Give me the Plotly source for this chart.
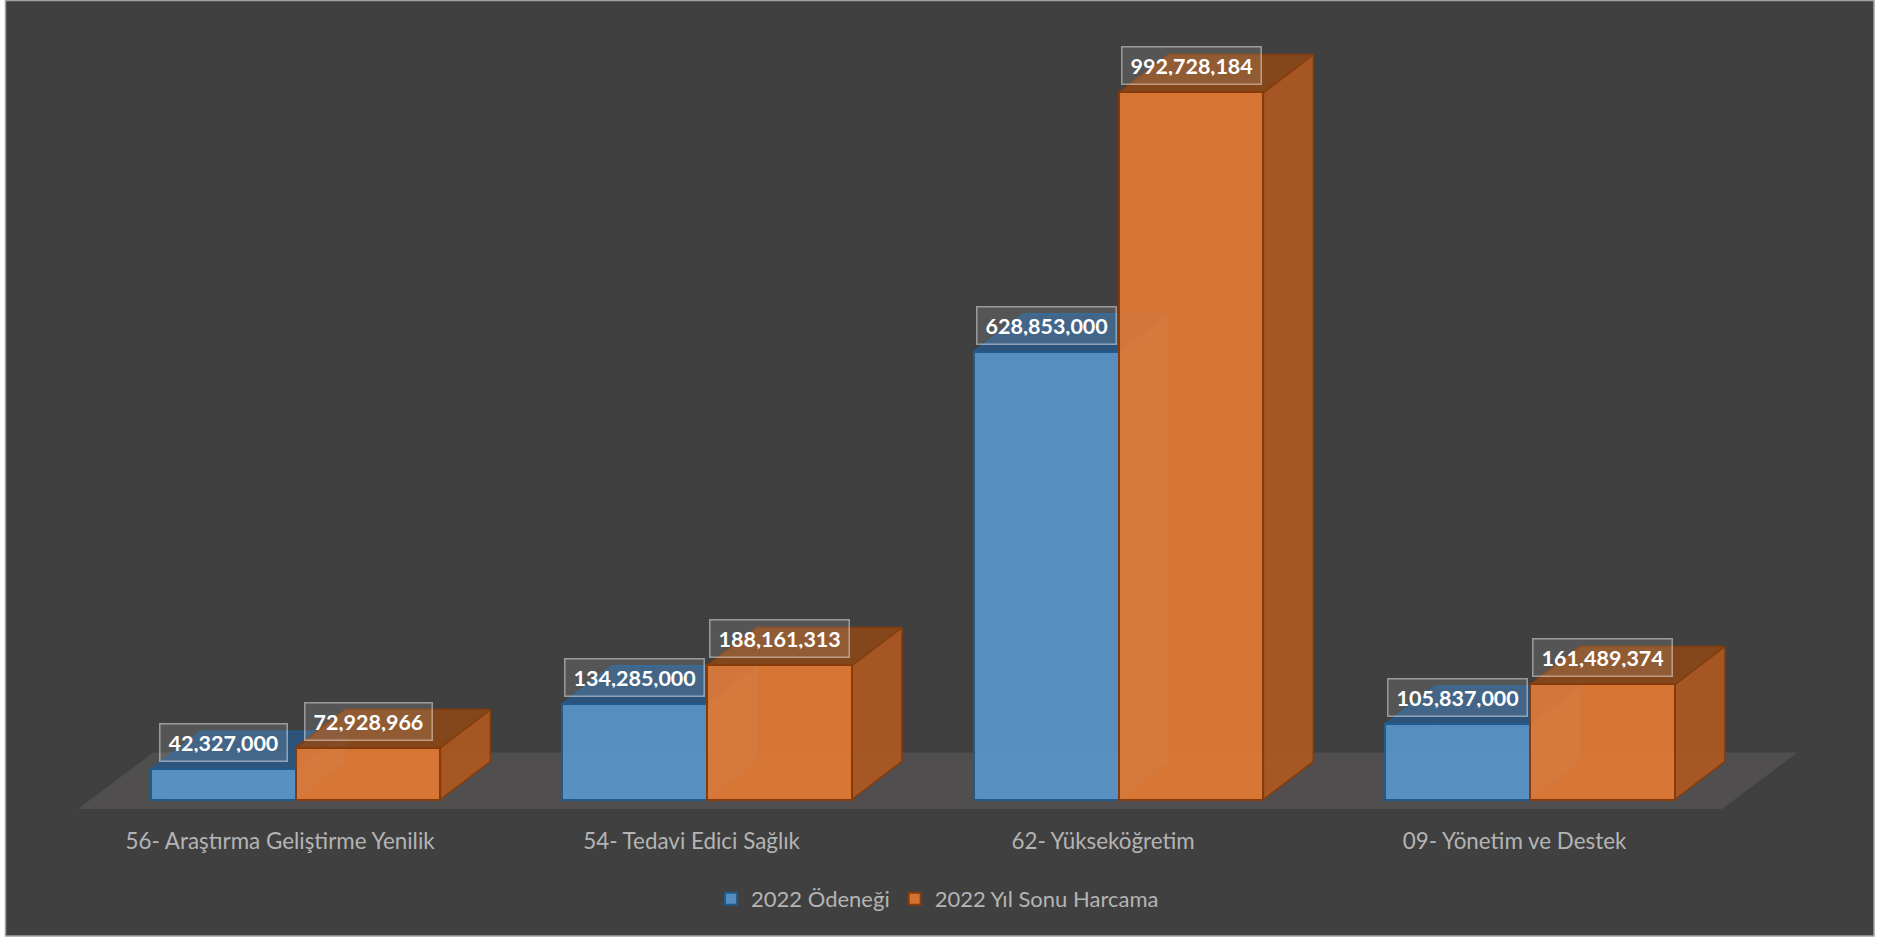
import plotly.graph_objects as go

categories = ["56- Araştırma Geliştirme Yenilik", "54- Tedavi Edici Sağlık", "62- Yükseköğretim", "09- Yönetim ve Destek"]
series_names = ["2022 Ödeneği", "2022 Yıl Sonu Harcama"]
odenek = [42327000, 134285000, 628853000, 105837000]
harcama = [72928966, 188161313, 992728184, 161489374]
positions = [0, 1, 2, 3]

PX_X = 411.5            # pixels per category
PX_Y = 0.7122e-6        # pixels per unit of value
BASE = 799.5            # pixel row of the value 0
W = 144.8 / PX_X        # bar width
DX = 50 / PX_X          # 3D depth, x
DY = 38 / PX_Y          # 3D depth, y
FDX = 75.5 / PX_X
FDY = 56.5 / PX_Y
BG = "#404040"
FONT = "Lato"
TXT = "#B4B4B4"

def poly_trace(xs, ys, fill, line, z, lw=1.5):
    return go.Scatter(x=xs, y=ys, mode="lines", fill="toself", fillcolor=fill,
                      line=dict(color=line, width=lw), hoverinfo="skip",
                      showlegend=False, zorder=z, cliponaxis=False)

def faces(lefts, values):
    top_x, top_y, side_x, side_y, back_x, back_y, floor_x, floor_y = [], [], [], [], [], [], [], []
    for l, v in zip(lefts, values):
        r = l + W
        top_x += [l, r, r + DX, l + DX, l, None]
        top_y += [v, v, v + DY, v + DY, v, None]
        side_x += [r, r + DX, r + DX, r, r, None]
        side_y += [0, DY, v + DY, v, 0, None]
        back_x += [l + DX, r + DX, r + DX, l + DX, l + DX, None]
        back_y += [DY, DY, v + DY, v + DY, DY, None]
        floor_x += [l, l + DX, l + DX, l, None, l, r, r + DX, l + DX, l, None]
        floor_y += [0, DY, v + DY, v, None, 0, 0, DY, DY, 0, None]
    return top_x, top_y, side_x, side_y, back_x, back_y, floor_x, floor_y

fig = go.Figure()

# floor
fl = -0.5288; fr = 3.466; fy0 = -13.3e6; fy1 = fy0 + FDY
fig.add_trace(poly_trace([fl, fr, fr + FDX, fl + FDX, fl], [fy0, fy0, fy1, fy1, fy0],
                         "#514E4F", "rgba(0,0,0,0)", 0, 0))

styles = [
    dict(name=series_names[0], vals=odenek, off=-W, front="rgba(91,155,213,0.85)", line="#215A8C",
         top="rgba(40,86,130,0.85)", side="rgba(60,105,150,0.75)", back="rgba(91,155,213,0.08)", z=1),
    dict(name=series_names[1], vals=harcama, off=0, front="rgba(237,125,49,0.85)", line="#843C0C",
         top="rgba(140,72,24,0.88)", side="rgba(172,88,32,0.92)", back="rgba(237,125,49,0.08)", z=5),
]

for s in styles:
    lefts = [p + s["off"] for p in positions]
    tx, ty, sx, sy, bx, by, ix, iy = faces(lefts, s["vals"])
    fig.add_trace(poly_trace(bx, by, s["back"], "rgba(255,255,255,0.05)", s["z"], 1))
    fig.add_trace(poly_trace(ix, iy, s["back"], "rgba(255,255,255,0.05)", s["z"], 1))
    fig.add_trace(poly_trace(sx, sy, s["side"], s["line"], s["z"] + 1))
    fig.add_trace(poly_trace(tx, ty, s["top"], s["line"], s["z"] + 1))
    fig.add_trace(go.Bar(x=[p + s["off"] + W / 2 for p in positions], y=s["vals"], width=W,
                         name=s["name"], zorder=s["z"] + 2, hoverinfo="y",
                         marker=dict(color=s["front"], line=dict(color=s["line"], width=2))))
    for p, v in zip(positions, s["vals"]):
        fig.add_annotation(x=p + s["off"] + W / 2, y=v, xref="x", yref="y", text=f"<b>{v:,}</b>",
                           showarrow=False, yanchor="bottom", xanchor="center", yshift=7,
                           font=dict(family=FONT, size=21.5, color="white"), height=20,
                           bgcolor="rgba(255,255,255,0.11)", bordercolor="rgba(255,255,255,0.45)",
                           borderwidth=1.5, borderpad=8)

H = 810
fig.update_layout(
    width=1892, height=937, autosize=False,
    margin=dict(l=0, r=0, t=0, b=937 - H, pad=0),
    paper_bgcolor="white", plot_bgcolor="rgba(0,0,0,0)",
    barmode="overlay", bargap=0,
    font=dict(family=FONT, color=TXT, size=22),
    xaxis=dict(range=[-295.6 / PX_X, (1892 - 295.6) / PX_X], showgrid=False, zeroline=False, showline=False,
               tickmode="array", tickvals=[p - 15.5 / PX_X for p in positions], ticktext=categories,
               ticks="outside", ticklen=11, tickcolor="rgba(0,0,0,0)",
               tickfont=dict(family=FONT, size=22.4, color=TXT), fixedrange=True),
    yaxis=dict(range=[(BASE - H) / 0.7122 * 1e6, BASE / 0.7122 * 1e6], visible=False, fixedrange=True),
    legend=dict(orientation="h", x=711 / 1892, xanchor="left", y=(H - 899) / H, yanchor="middle",
                bgcolor="rgba(0,0,0,0)", font=dict(family=FONT, size=22, color=TXT), traceorder="normal"),
    shapes=[dict(type="rect", xref="paper", yref="paper", x0=5.5 / 1892, x1=1874 / 1892,
                 y0=(H - 936) / H, y1=1 - 0.5 / H, fillcolor=BG,
                 line=dict(color="#A0A0A0", width=1.5), layer="below")],
)

fig.write_html("out.html", config={"displayModeBar": False}, post_script="document.body.style.margin='0';")
